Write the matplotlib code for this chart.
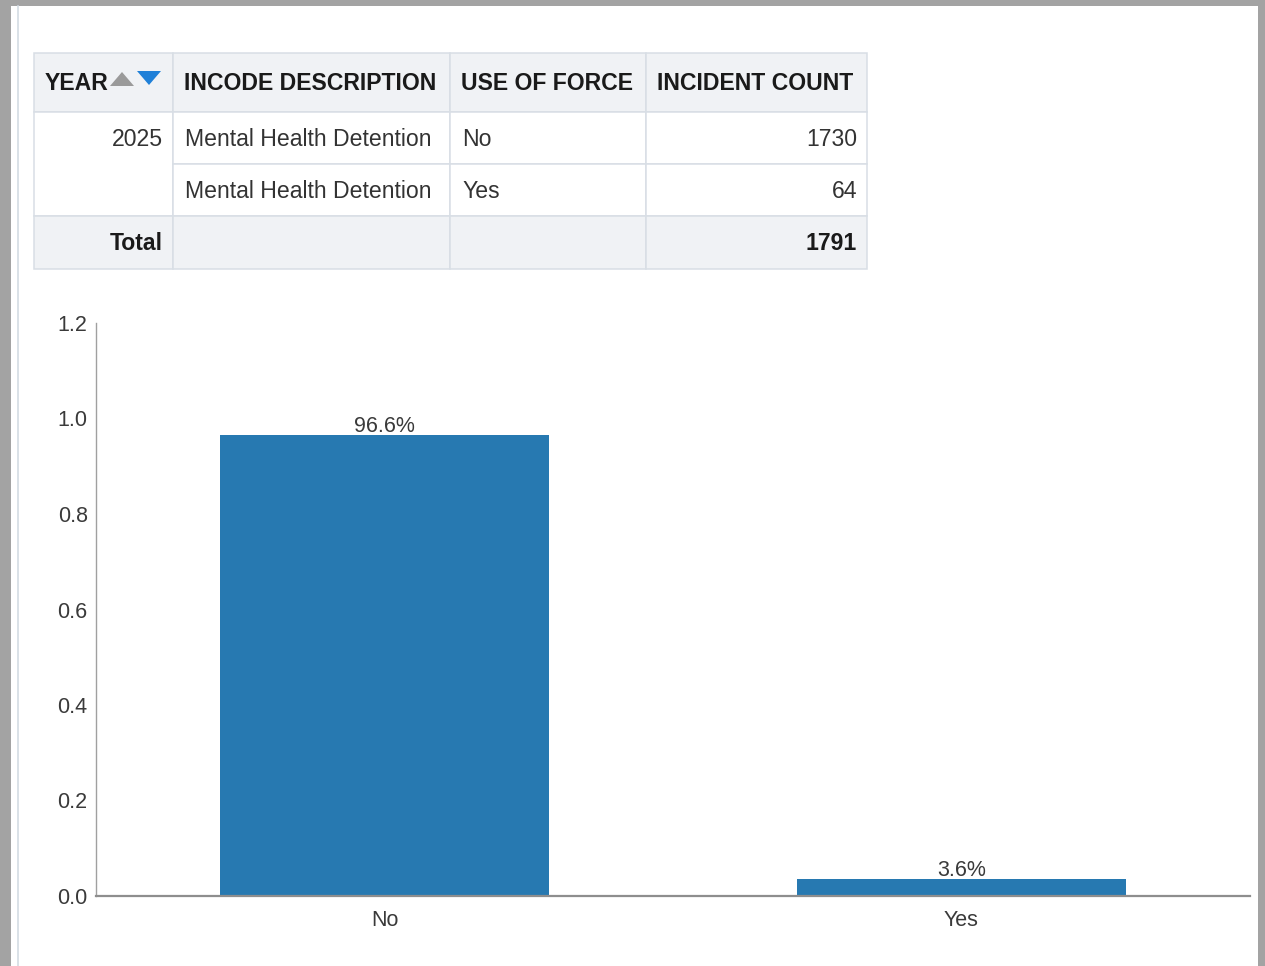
import matplotlib
matplotlib.use("Agg")
import matplotlib.pyplot as plt
from matplotlib.patches import Rectangle, Polygon

# ---------------- data ----------------
table_headers = ["YEAR", "INCODE DESCRIPTION", "USE OF FORCE", "INCIDENT COUNT"]
table_year = "2025"
table_desc = ["Mental Health Detention", "Mental Health Detention"]
table_force = ["No", "Yes"]
table_counts = ["1730", "64"]
table_total_label = "Total"
table_total = "1791"

categories = ["No", "Yes"]
shares = [0.966, 0.036]
share_labels = ["96.6%", "3.6%"]
y_ticks = [0.0, 0.2, 0.4, 0.6, 0.8, 1.0, 1.2]

# ---------------- style ----------------
W, H = 1265, 966
plt.rcParams["font.family"] = ["Liberation Sans", "DejaVu Sans"]
fig = plt.figure(figsize=(W / 100, H / 100), dpi=100)
fig.patch.set_facecolor("#a3a3a3")

# background / page frame in pixel coordinates
bg = fig.add_axes([0, 0, 1, 1], zorder=0)
bg.set_xlim(0, W)
bg.set_ylim(H, 0)
bg.axis("off")
bg.add_patch(Rectangle((11, 6), 1247, H - 6, facecolor="white", edgecolor="none"))
bg.plot([18, 18], [6, H], color="#d3dbe3", lw=1.2)

# ---------------- table ----------------
col_x = [34, 173, 450, 646, 867]
row_y = [53, 112, 164, 216, 269]
hdr_bg = "#f0f2f5"
border = "#d8dee5"
txt_dark = "#1a1a1a"
txt_body = "#333333"
fs_tab = 16.6

# header row
for c in range(4):
    bg.add_patch(Rectangle((col_x[c], row_y[0]), col_x[c + 1] - col_x[c], row_y[1] - row_y[0],
                           facecolor=hdr_bg, edgecolor=border, lw=1.1))
# body rows
bg.add_patch(Rectangle((col_x[0], row_y[1]), col_x[1] - col_x[0], row_y[3] - row_y[1],
                       facecolor="white", edgecolor=border, lw=1.1))
for r in (1, 2):
    for c in range(1, 4):
        bg.add_patch(Rectangle((col_x[c], row_y[r]), col_x[c + 1] - col_x[c], row_y[r + 1] - row_y[r],
                               facecolor="white", edgecolor=border, lw=1.1))
# total row
for c in range(4):
    bg.add_patch(Rectangle((col_x[c], row_y[3]), col_x[c + 1] - col_x[c], row_y[4] - row_y[3],
                           facecolor=hdr_bg, edgecolor=border, lw=1.1))

def ymid(r):
    return (row_y[r] + row_y[r + 1]) / 2 + 1

pad = 11
for c, h in enumerate(table_headers):
    bg.text(col_x[c] + pad, ymid(0), h, ha="left", va="center", fontsize=fs_tab,
            fontweight="bold", color=txt_dark)
# sort arrows
bg.add_patch(Polygon([[110, 86], [122, 72], [134, 86]], closed=True, facecolor="#9a9a9a", edgecolor="none"))
bg.add_patch(Polygon([[137, 71], [161, 71], [149, 85]], closed=True, facecolor="#1f80d8", edgecolor="none"))

bg.text(col_x[1] - 10, ymid(1), table_year, ha="right", va="center", fontsize=fs_tab, color=txt_body)
for i in range(2):
    r = i + 1
    bg.text(col_x[1] + pad + 1, ymid(r), table_desc[i], ha="left", va="center", fontsize=fs_tab, color=txt_body)
    bg.text(col_x[2] + pad + 1, ymid(r), table_force[i], ha="left", va="center", fontsize=fs_tab, color=txt_body)
    bg.text(col_x[4] - 10, ymid(r), table_counts[i], ha="right", va="center", fontsize=fs_tab, color=txt_body)
bg.text(col_x[1] - 10, ymid(3), table_total_label, ha="right", va="center", fontsize=fs_tab,
        fontweight="bold", color=txt_dark)
bg.text(col_x[4] - 10, ymid(3), table_total, ha="right", va="center", fontsize=fs_tab,
        fontweight="bold", color=txt_dark)

# ---------------- bar chart ----------------
ax = fig.add_axes([96 / W, (H - 896) / H, (1250 - 96) / W, (896 - 323) / H], zorder=1)
ax.set_facecolor("none")
x = list(range(len(categories)))
bars = ax.bar(x, shares, width=0.57, color="#2779b1", zorder=2)
ax.set_xlim(-0.5, 1.5)
ax.set_ylim(0, 1.2)
ax.set_yticks(y_ticks)
ax.set_yticklabels([f"{t:.1f}" for t in y_ticks])
ax.set_xticks(x)
ax.set_xticklabels(categories)
ax.tick_params(axis="y", length=0, pad=6, labelsize=15.5, labelcolor="#3a3a3a")
ax.tick_params(axis="x", length=0, pad=10, labelsize=15.5, labelcolor="#3a3a3a")
for s in ("top", "right"):
    ax.spines[s].set_visible(False)
ax.spines["left"].set_color("#a0a0a0")
ax.spines["left"].set_linewidth(1.0)
ax.spines["bottom"].set_color("#8e8e8e")
ax.spines["bottom"].set_linewidth(1.6)
ax.bar_label(bars, labels=share_labels, padding=-1.5, fontsize=15.5, color="#3a3a3a")

fig.savefig("out.png", dpi=100, facecolor=fig.get_facecolor())
